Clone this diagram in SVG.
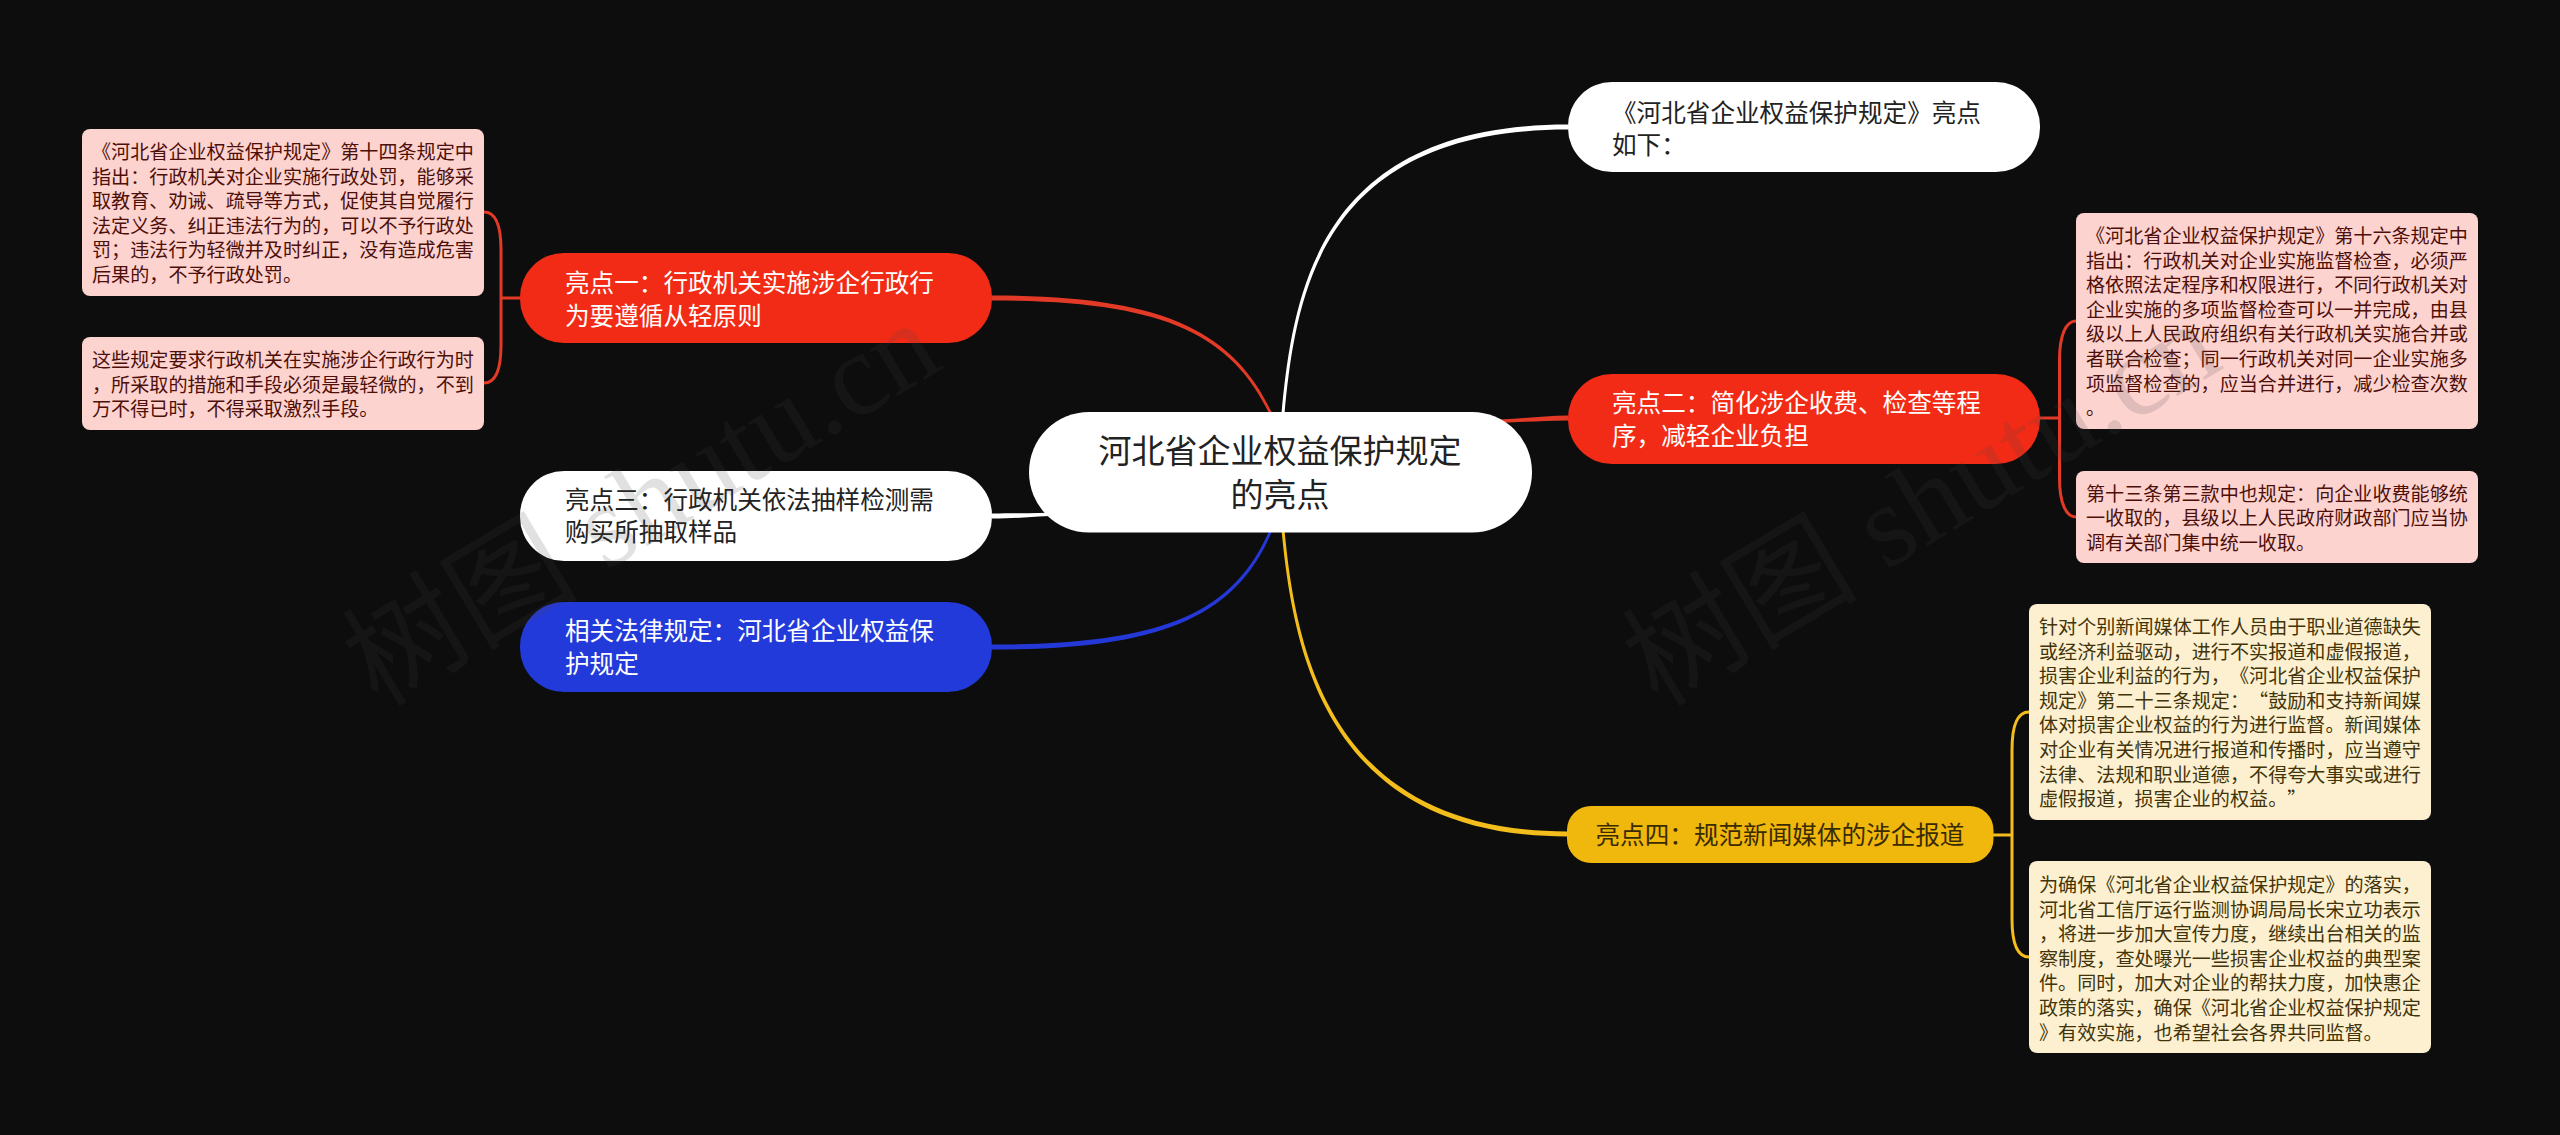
<svg xmlns="http://www.w3.org/2000/svg" width="2560" height="1135" viewBox="0 0 2560 1135">
<style>
text{font-family:"Noto Sans CJK SC","Noto Sans",sans-serif;white-space:pre;text-spacing-trim:space-all}
.leaf{font-size:19.1px}
.branch{font-size:24.6px}
.root{font-size:33px;fill:#222;text-anchor:middle}
.pk{fill:#fdd3d0}.cr{fill:#fcf0d0}
.tp{fill:#4d0f08}.tc{fill:#42340a}
.w{fill:#fff}.d{fill:#222}.y{fill:#3a2b02}
.br{fill:none;stroke-width:3;stroke-linecap:round}
.wm{font-family:"Liberation Serif","Noto Sans CJK SC",serif;font-size:118px;fill:#444;fill-opacity:.16}
</style>
<rect width="2560" height="1135" fill="#0d0d0d"/>
<g id="connectors">
<path fill="#e23a26" d="M992 295.5C1160 295.500 1233 329 1272.500 414L1269.500 414C1230 332 1160 300.500 992 300.500Z"/>
<path fill="#fff" d="M1281.500 414C1293 290 1320 124.500 1568 124.500L1568 129.500C1323 129.500 1296 290 1284.500 414Z"/>
<path fill="#e23a26" d="M1490 420C1520 419 1540 416 1568 415.500L1568 420.500C1540 421 1520 422 1490 423Z"/>
<path fill="#fff" d="M992 513.500C1020 513.500 1040 513 1060 512.500L1060 515.500C1040 516 1020 518.500 992 518.500Z"/>
<path fill="#2438d8" d="M992 644.500C1160 644.500 1233 615 1269.500 530L1272.500 530C1236 618 1160 649.500 992 649.500Z"/>
<path fill="#f3bd1c" d="M1281.500 530C1293 650 1325 836.500 1567 836.500L1567 831.500C1329 831.500 1296 650 1284.500 530Z"/>
<path class="br" stroke="#e23a26" d="M484 212C495 212 501 225 501 250L501 345C501 370 495 383 484 383M501 298H520"/>
<path class="br" stroke="#e23a26" d="M2076 321C2066 321 2059.500 335 2059.500 360L2059.500 478C2059.500 503 2066 517 2076 517M2040 418H2059.500"/>
<path class="br" stroke="#f3bd1c" d="M2029 712C2018 712 2012 725 2012 750L2012 919C2012 944 2018 957 2029 957M1993 835H2012"/>
</g>
<g id="root"><rect x="1029" y="412" width="503" height="120.500" rx="60" fill="#fff"/>
<text class="root"><tspan x="1280" y="463">河北省企业权益保护规定</tspan><tspan x="1280" y="507">的亮点</tspan></text></g>
<g id="n-top"><rect x="1568" y="82" width="472" height="90" rx="44" fill="#fff"/>
<text class="branch d"><tspan x="1612" y="122">《河北省企业权益保护规定》亮点</tspan><tspan x="1612" y="154">如下：</tspan></text></g>
<g id="n-2"><rect x="1568" y="374" width="472" height="90" rx="44" fill="#f22b16"/>
<text class="branch w"><tspan x="1612" y="412">亮点二：简化涉企收费、检查等程</tspan><tspan x="1612" y="445">序，减轻企业负担</tspan></text></g>
<g id="n-4"><rect x="1567" y="806" width="426.500" height="57" rx="24" fill="#f0b70c"/>
<text class="branch y"><tspan x="1595.500" y="844">亮点四：规范新闻媒体的涉企报道</tspan></text></g>
<g id="n-1"><rect x="520" y="253" width="472" height="90" rx="44" fill="#f22b16"/>
<text class="branch w"><tspan x="565" y="292">亮点一：行政机关实施涉企行政行</tspan><tspan x="565" y="325">为要遵循从轻原则</tspan></text></g>
<g id="n-3"><rect x="520" y="471" width="472" height="90" rx="44" fill="#fff"/>
<text class="branch d"><tspan x="565" y="508.500">亮点三：行政机关依法抽样检测需</tspan><tspan x="565" y="541">购买所抽取样品</tspan></text></g>
<g id="n-law"><rect x="520" y="602" width="472" height="90" rx="44" fill="#233adb"/>
<text class="branch w"><tspan x="565" y="640">相关法律规定：河北省企业权益保</tspan><tspan x="565" y="672.500">护规定</tspan></text></g>
<g id="l-1a"><rect class="pk" x="82" y="129" width="402" height="167" rx="8"/>
<text class="leaf tp"><tspan x="92" y="159">《河北省企业权益保护规定》第十四条规定中</tspan><tspan x="92" y="183.600">指出：行政机关对企业实施行政处罚，能够采</tspan><tspan x="92" y="208.200">取教育、劝诫、疏导等方式，促使其自觉履行</tspan><tspan x="92" y="232.800">法定义务、纠正违法行为的，可以不予行政处</tspan><tspan x="92" y="257.400">罚；违法行为轻微并及时纠正，没有造成危害</tspan><tspan x="92" y="282">后果的，不予行政处罚。</tspan></text></g>
<g id="l-1b"><rect class="pk" x="82" y="337" width="402" height="93" rx="8"/>
<text class="leaf tp"><tspan x="92" y="367">这些规定要求行政机关在实施涉企行政行为时</tspan><tspan x="92" y="391.600">，所采取的措施和手段必须是最轻微的，不到</tspan><tspan x="92" y="416.200">万不得已时，不得采取激烈手段。</tspan></text></g>
<g id="l-2a"><rect class="pk" x="2076" y="213" width="402" height="216" rx="8"/>
<text class="leaf tp"><tspan x="2086" y="243">《河北省企业权益保护规定》第十六条规定中</tspan><tspan x="2086" y="267.600">指出：行政机关对企业实施监督检查，必须严</tspan><tspan x="2086" y="292.200">格依照法定程序和权限进行，不同行政机关对</tspan><tspan x="2086" y="316.800">企业实施的多项监督检查可以一并完成，由县</tspan><tspan x="2086" y="341.400">级以上人民政府组织有关行政机关实施合并或</tspan><tspan x="2086" y="366">者联合检查；同一行政机关对同一企业实施多</tspan><tspan x="2086" y="390.600">项监督检查的，应当合并进行，减少检查次数</tspan><tspan x="2086" y="415.200">。</tspan></text></g>
<g id="l-2b"><rect class="pk" x="2076" y="471" width="402" height="92" rx="8"/>
<text class="leaf tp"><tspan x="2086" y="500.500">第十三条第三款中也规定：向企业收费能够统</tspan><tspan x="2086" y="525">一收取的，县级以上人民政府财政部门应当协</tspan><tspan x="2086" y="549.600">调有关部门集中统一收取。</tspan></text></g>
<g id="l-4a"><rect class="cr" x="2029" y="604" width="402" height="216" rx="8"/>
<text class="leaf tc"><tspan x="2039" y="634">针对个别新闻媒体工作人员由于职业道德缺失</tspan><tspan x="2039" y="658.600">或经济利益驱动，进行不实报道和虚假报道，</tspan><tspan x="2039" y="683.200">损害企业利益的行为，《河北省企业权益保护</tspan><tspan x="2039" y="707.800">规定》第二十三条规定：“鼓励和支持新闻媒</tspan><tspan x="2039" y="732.400">体对损害企业权益的行为进行监督。新闻媒体</tspan><tspan x="2039" y="757">对企业有关情况进行报道和传播时，应当遵守</tspan><tspan x="2039" y="781.600">法律、法规和职业道德，不得夸大事实或进行</tspan><tspan x="2039" y="806.200">虚假报道，损害企业的权益。”</tspan></text></g>
<g id="l-4b"><rect class="cr" x="2029" y="861" width="402" height="192" rx="8"/>
<text class="leaf tc"><tspan x="2039" y="892">为确保《河北省企业权益保护规定》的落实，</tspan><tspan x="2039" y="916.600">河北省工信厅运行监测协调局局长宋立功表示</tspan><tspan x="2039" y="941.200">，将进一步加大宣传力度，继续出台相关的监</tspan><tspan x="2039" y="965.800">察制度，查处曝光一些损害企业权益的典型案</tspan><tspan x="2039" y="990.400">件。同时，加大对企业的帮扶力度，加快惠企</tspan><tspan x="2039" y="1015">政策的落实，确保《河北省企业权益保护规定</tspan><tspan x="2039" y="1039.600">》有效实施，也希望社会各界共同监督。</tspan></text></g>
<g id="watermarks">
<text class="wm" transform="translate(378 708) rotate(-31)">树图 shutu.cn</text>
<text class="wm" transform="translate(1658 708) rotate(-31)">树图 shutu.cn</text>
</g>
</svg>
